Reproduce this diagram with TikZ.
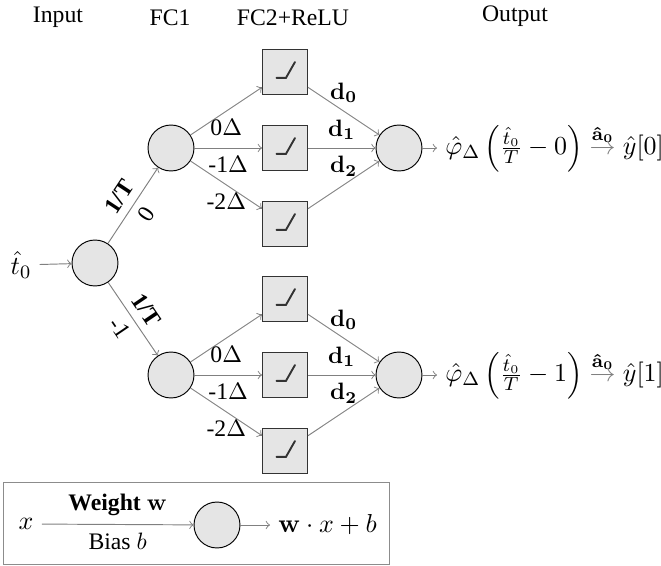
\documentclass[tikz,border=0pt]{standalone}
\usepackage[no-math]{fontspec}
\setmainfont{Liberation Serif}
\usepackage{amsmath}
\begin{document}
\begin{tikzpicture}[x=0.422pt,y=-0.422pt,
  neuron/.style={circle,draw=black,fill=gray!20,minimum size=19.4pt,inner sep=0pt},
  relu/.style={draw=black!80,fill=gray!20,minimum size=19pt,inner sep=0pt,
    path picture={\draw[line width=0.8pt,line cap=round]
      ([xshift=-3.6pt,yshift=-2.5pt]path picture bounding box.center)
      -- ++(4pt,0pt) -- ++(3.8pt,6.7pt);}},
  conn/.style={draw=black!50,->},
  bigmath/.style={font=\fontsize{10.8pt}{13pt}\selectfont},
]
\useasboundingbox (0,0) rectangle (661,565);

% headers
\node[anchor=base] (hin) at (58,22) {Input};
\node[anchor=base] (hfc1) at (170,25) {FC1};
\node[anchor=base] (hfc2) at (293,25) {FC2+ReLU};
\node[anchor=base] (hout) at (515,21) {Output};

% input
\node[bigmath] (t0) at (21,265) {$\hat{t}_0$};
\node[neuron] (in) at (95,263) {};
\draw[conn] (t0) -- (in);

% FC1
\node[neuron] (h1) at (171,148) {};
\node[neuron] (h2) at (171,375) {};
\draw[conn] (in) -- node[sloped,above,pos=0.5,font=\bfseries]{1/T} node[sloped,below,pos=0.5]{0} (h1);
\draw[conn] (in) -- node[sloped,above,pos=0.5,font=\bfseries]{1/T} node[sloped,below,pos=0.5]{-1} (h2);

% ReLU boxes
\node[relu] (a1) at (285,72) {};
\node[relu] (a2) at (285,148) {};
\node[relu] (a3) at (285,224) {};
\node[relu] (b1) at (285,299) {};
\node[relu] (b2) at (285,375) {};
\node[relu] (b3) at (285,451) {};

% outputs
\node[neuron] (o1) at (399,148) {};
\node[neuron] (o2) at (399,375) {};

\draw[conn] (h1) -- node[below]{0$\Delta$} (a1);
\draw[conn] (h1) -- node[below]{-1$\Delta$} (a2);
\draw[conn] (h1) -- node[below]{-2$\Delta$} (a3);
\draw[conn] (h2) -- node[below]{0$\Delta$} (b1);
\draw[conn] (h2) -- node[below]{-1$\Delta$} (b2);
\draw[conn] (h2) -- node[below]{-2$\Delta$} (b3);

\draw[conn] (a1) -- node[above]{$\mathbf{d_0}$} (o1);
\draw[conn] (a2) -- node[above]{$\mathbf{d_1}$} (o1);
\draw[conn] (a3) -- node[above]{$\mathbf{d_2}$} (o1);
\draw[conn] (b1) -- node[above]{$\mathbf{d_0}$} (o2);
\draw[conn] (b2) -- node[above]{$\mathbf{d_1}$} (o2);
\draw[conn] (b3) -- node[above]{$\mathbf{d_2}$} (o2);

\node[bigmath,anchor=west] (f1) at (437,148) {$\hat{\varphi}_\Delta\left(\frac{\hat{t}_0}{T}-0\right)\stackrel{\mathbf{\hat{a}_0}}{\textcolor{black!50}{\rightarrow}}\hat{y}[0]$};
\node[bigmath,anchor=west] (f2) at (437,375) {$\hat{\varphi}_\Delta\left(\frac{\hat{t}_0}{T}-1\right)\stackrel{\mathbf{\hat{a}_0}}{\textcolor{black!50}{\rightarrow}}\hat{y}[1]$};
\draw[conn] (o1) -- (f1);
\draw[conn] (o2) -- (f2);

% legend
\node[draw=black!45,minimum width=162.9pt,minimum height=34.6pt,inner sep=0pt] (legend) at (196,523) {};
\node[bigmath] (lx) at (26,524) {$x$};
\node[neuron] (lc) at (217,525) {};
\node[bigmath,anchor=west] (lout) at (270,525) {$\mathbf{w}\cdot x+b$};
\draw[conn] (lx) -- node[above]{\textbf{Weight} $\mathbf{w}$} node[below]{Bias $b$} (lc);
\draw[conn] (lc) -- (lout);
\end{tikzpicture}
\end{document}
